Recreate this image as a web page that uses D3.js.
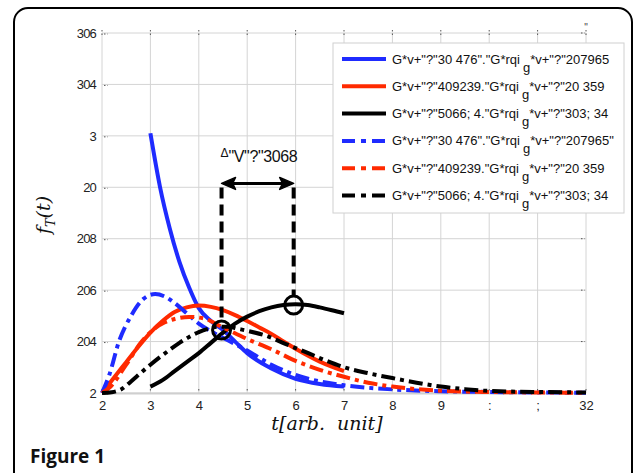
<!DOCTYPE html>
<html><head><meta charset="utf-8">
<script src="https://cdn.jsdelivr.net/npm/d3@7"></script>
<style>
html,body{margin:0;padding:0;background:#fff;}
svg{display:block;}
</style></head>
<body>
<svg id="c" width="635" height="473"></svg>
<script>
// ---- data ----
const xTicks = [0,1,2,3,4,5,6,7,8,9,10];
const xTickLabels = ["2","3","4","5","6","7","8","9",":",";","32"];
const yTicks = [0,0.2,0.4,0.6,0.8,1.0,1.2,1.4];
const yTickLabels = ["2","204","206","208","20","3","304","306"];

const blueSolidT = [1,1.2,1.4,1.6,1.8,2,2.25,2.5,2.75,3,3.5,4,4.5,5];
const blueSolidV = [1.01,0.80,0.64,0.51,0.41,0.33,0.28,0.245,0.20,0.155,0.095,0.055,0.035,0.025];
const redSolidT = [0,0.25,0.5,0.75,1,1.25,1.5,1.75,2,2.25,2.5,2.75,3,3.25,3.5,3.75,4,4.5,5];
const redSolidV = [0,0.06,0.12,0.18,0.235,0.28,0.315,0.333,0.34,0.335,0.322,0.303,0.28,0.255,0.23,0.2,0.172,0.122,0.085];
const blackSolidT = [1,1.25,1.5,1.75,2,2.25,2.5,2.75,3,3.25,3.5,3.75,4,4.25,4.5,4.75,5];
const blackSolidV = [0.025,0.05,0.085,0.12,0.155,0.195,0.235,0.27,0.297,0.318,0.333,0.342,0.345,0.342,0.333,0.322,0.31];
const blueDashT = [0,0.15,0.35,0.6,0.85,1.1,1.3,1.5,1.75,2,2.3,2.6,3,3.5,4,4.5,5,6,7,8,9,10];
const blueDashV = [0,0.07,0.2,0.3,0.365,0.385,0.375,0.35,0.31,0.27,0.235,0.205,0.165,0.11,0.07,0.045,0.03,0.014,0.007,0.004,0.002,0.001];
const redDashT = [0,0.15,0.5,0.8,1.05,1.3,1.5,1.8,2.1,2.5,3,3.5,4,4.5,5,5.5,6,6.5,7,8,9,10];
const redDashV = [0,0.02,0.11,0.195,0.245,0.275,0.288,0.296,0.29,0.255,0.21,0.17,0.125,0.09,0.063,0.04,0.025,0.015,0.009,0.004,0.002,0.001];
const blackDashT = [0,0.2,0.4,0.6,0.8,1,1.2,1.4,1.6,1.8,2,2.2,2.4,2.6,2.8,3,3.4,3.8,4.2,4.6,5,5.5,6,6.5,7,7.5,8,9,10];
const blackDashV = [0,0.003,0.015,0.045,0.078,0.11,0.14,0.168,0.195,0.218,0.237,0.25,0.258,0.258,0.25,0.242,0.222,0.19,0.16,0.128,0.1,0.077,0.058,0.04,0.025,0.015,0.008,0.004,0.002];

const legendMain = [
  'G*v+"?"30 476"."G*rqi', 'G*v+"?"409239."G*rqi', 'G*v+"?"5066; 4."G*rqi',
  'G*v+"?"30 476"."G*rqi', 'G*v+"?"409239."G*rqi', 'G*v+"?"5066; 4."G*rqi'];
const legendTail = [
  '*v+"?"207965', '*v+"?"20 359', '*v+"?"303; 34',
  '*v+"?"207965"', '*v+"?"20 359', '*v+"?"303; 34'];

const peakT = [2.47, 3.96];
const peakV = [0.245, 0.342];
const arrowV = 0.815;
const deltaLabel = '"V"?"3068';

// ---- styles ----
const BLUE = "#1f2bff", RED = "#ff2a00", BLACK = "#000";
const DASHDOT = "14,5,4,5";
const series = [
  {t: blueSolidT, v: blueSolidV, c: BLUE, d: null},
  {t: redSolidT, v: redSolidV, c: RED, d: null},
  {t: blackSolidT, v: blackSolidV, c: BLACK, d: null},
  {t: blueDashT, v: blueDashV, c: BLUE, d: DASHDOT},
  {t: redDashT, v: redDashV, c: RED, d: DASHDOT},
  {t: blackDashT, v: blackDashV, c: BLACK, d: DASHDOT}
];

const svg = d3.select("#c");
const x = d3.scaleLinear().domain([0,10]).range([102,586]);
const y = d3.scaleLinear().domain([0,1.4]).range([393,33]);

// outer frame
svg.append("rect").attr("x",14).attr("y",8).attr("width",618).attr("height",490)
  .attr("rx",14).attr("fill","none").attr("stroke","#000").attr("stroke-width",2);

// grid
const g = svg.append("g");
g.selectAll(".vg").data(xTicks).join("line")
  .attr("x1",d=>x(d)).attr("x2",d=>x(d)).attr("y1",y(1.4)).attr("y2",y(0))
  .attr("stroke","#d4d4d4").attr("stroke-width",1);
g.selectAll(".hg").data(yTicks).join("line")
  .attr("x1",x(0)).attr("x2",x(10)).attr("y1",d=>y(d)).attr("y2",d=>y(d))
  .attr("stroke","#d4d4d4").attr("stroke-width",1);
svg.append("line").attr("x1",x(0)).attr("x2",x(10)).attr("y1",y(0)+0.5).attr("y2",y(0)+0.5)
  .attr("stroke","#cfcfcf").attr("stroke-width",2);

// axes
const xAxis = d3.axisBottom(x).tickValues(xTicks).tickFormat((d,i)=>xTickLabels[i]).tickSize(0).tickPadding(8);
const xa = svg.append("g").attr("transform",`translate(0,${y(0)})`).call(xAxis);
xa.select(".domain").remove();
xa.selectAll("text").attr("font-family","Liberation Sans, Arial, sans-serif").attr("font-size",13).attr("fill","#222");

const yAxis = d3.axisLeft(y).tickValues(yTicks).tickFormat((d,i)=>yTickLabels[i]).tickSize(0).tickPadding(6);
const ya = svg.append("g").attr("transform",`translate(${x(0)},0)`).call(yAxis);
ya.select(".domain").remove();
ya.selectAll("text").attr("font-family","Liberation Sans, Arial, sans-serif").attr("font-size",13).attr("fill","#222").attr("letter-spacing","-0.8");

// dotted tick marks
const tk = svg.append("g").attr("stroke","#555").attr("stroke-width",1).attr("stroke-dasharray","1.5,2");
tk.selectAll(".tt").data(xTicks).join("line").attr("x1",d=>x(d)).attr("x2",d=>x(d)).attr("y1",y(1.4)-3).attr("y2",y(1.4)+4);
tk.selectAll(".bt").data(xTicks).join("line").attr("x1",d=>x(d)).attr("x2",d=>x(d)).attr("y1",y(0)-4).attr("y2",y(0)-1);
tk.selectAll(".lt").data(yTicks).join("line").attr("x1",x(0)+2).attr("x2",x(0)+6).attr("y1",d=>y(d)+1).attr("y2",d=>y(d)+1);
tk.selectAll(".rt").data(yTicks).join("line").attr("x1",x(10)-5).attr("x2",x(10)-1).attr("y1",d=>y(d)).attr("y2",d=>y(d));
svg.append("text").attr("x",x(10)).attr("y",y(1.4)-2).attr("text-anchor","middle")
  .attr("font-family","Liberation Sans, Arial, sans-serif").attr("font-size",10).attr("fill","#444").text('"');

// curves
const line = d3.line().x(d=>x(d[0])).y(d=>y(d[1])).curve(d3.curveMonotoneX);
series.forEach(s=>{
  const pts = s.t.map((t,i)=>[t,s.v[i]]);
  svg.append("path").datum(pts).attr("d",line).attr("fill","none")
    .attr("stroke",s.c).attr("stroke-width",4)
    .attr("stroke-dasharray",s.d).attr("stroke-linejoin","round");
});

// annotation
const ann = svg.append("g");
peakT.forEach((t,i)=>{
  ann.append("line").attr("x1",x(t)).attr("x2",x(t)).attr("y1",y(arrowV)+4).attr("y2",y(peakV[i])-9)
    .attr("stroke","#000").attr("stroke-width",4).attr("stroke-dasharray","11,6");
  ann.append("circle").attr("cx",x(t)).attr("cy",y(peakV[i])).attr("r",9)
    .attr("fill","none").attr("stroke","#000").attr("stroke-width",3);
});
const ax1 = x(peakT[0]), ax2 = x(peakT[1]), ay = y(arrowV);
ann.append("line").attr("x1",ax1+10).attr("x2",ax2-10).attr("y1",ay).attr("y2",ay).attr("stroke","#000").attr("stroke-width",3);
ann.append("path").attr("d",`M${ax1},${ay} L${ax1+14},${ay-6} L${ax1+11},${ay} L${ax1+14},${ay+6} Z`).attr("fill","#000").attr("stroke","#000").attr("stroke-width",1.5).attr("stroke-linejoin","round");
ann.append("path").attr("d",`M${ax2},${ay} L${ax2-14},${ay-6} L${ax2-11},${ay} L${ax2-14},${ay+6} Z`).attr("fill","#000").attr("stroke","#000").attr("stroke-width",1.5).attr("stroke-linejoin","round");
const dl = ann.append("text").attr("x",ax1-1).attr("y",ay-21)
  .attr("font-family","Liberation Sans, Arial, sans-serif").attr("fill","#111");
dl.append("tspan").attr("font-size",12).attr("dy",-5).text("Δ");
dl.append("tspan").attr("font-size",16).attr("dy",5).attr("letter-spacing","-0.4").text(deltaLabel);

// legend
const lg = svg.append("g");
lg.append("rect").attr("x",333).attr("y",43).attr("width",291).attr("height",170)
  .attr("fill","#fff").attr("stroke","#d0d0d0").attr("stroke-width",1);
series.forEach((s,i)=>{
  const yy = 59 + i*27.3;
  lg.append("line").attr("x1",342).attr("x2",386).attr("y1",yy).attr("y2",yy)
    .attr("stroke",s.c).attr("stroke-width",4).attr("stroke-dasharray",s.d ? "13,6,5,6" : null);
  const tx = lg.append("text").attr("x",392).attr("y",yy+4.5)
    .attr("font-family","Liberation Sans, Arial, sans-serif").attr("font-size",13).attr("fill","#111");
  tx.append("tspan").text(legendMain[i]);
  tx.append("tspan").attr("dy",8).attr("dx",3).text("g");
  tx.append("tspan").attr("dy",-8).text(legendTail[i]);
});

// axis titles
const yl = svg.append("text").attr("transform","translate(50,215) rotate(-90)").attr("text-anchor","middle")
  .attr("font-family","DejaVu Serif, serif").attr("font-style","italic").attr("font-size",19).attr("fill","#111");
yl.append("tspan").text("f");
yl.append("tspan").attr("font-size",13).attr("dy",5).text("T");
yl.append("tspan").attr("dy",-5).text("(t)");

svg.append("text").attr("x",327).attr("y",430).attr("text-anchor","middle")
  .attr("font-family","DejaVu Serif, serif").attr("font-style","italic").attr("font-size",19).attr("fill","#111")
  .text("t[arb.\u00a0\u00a0unit]");

svg.append("text").attr("x",30).attr("y",463)
  .attr("font-family","Open Sans, sans-serif").attr("font-weight","bold").attr("font-size",19).attr("fill","#111")
  .text("Figure 1");
</script>
</body></html>
